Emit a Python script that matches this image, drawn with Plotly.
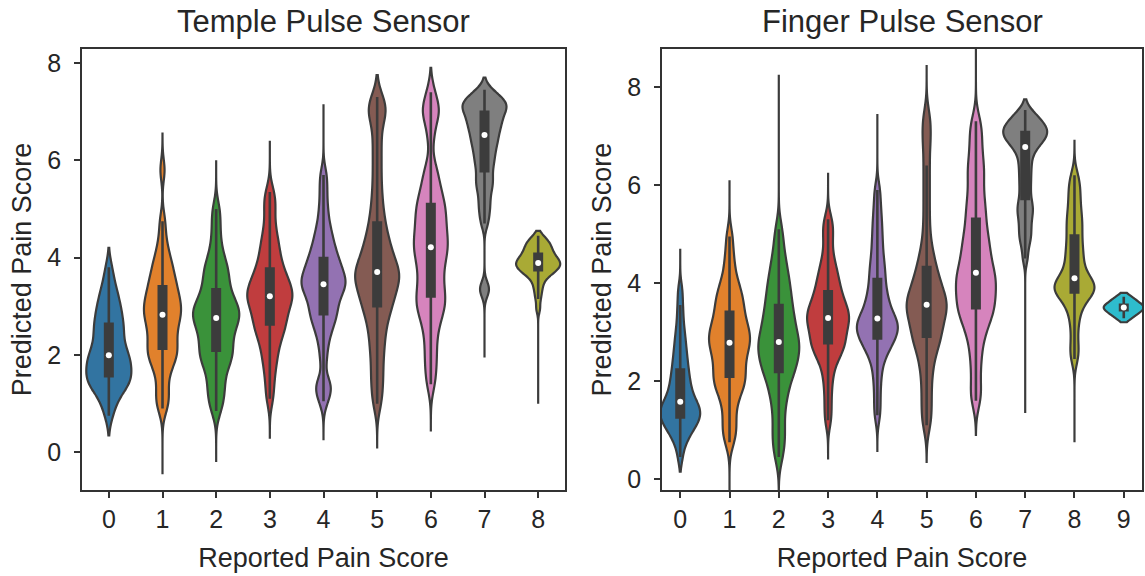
import numpy as np
import plotly.graph_objects as go

# ---------------------------------------------------------------
# Predicted pain score samples, grouped by reported pain score
# ---------------------------------------------------------------
# Temple pulse sensor
temple_0 = [0.75, 0.95, 1.1, 1.2, 1.28, 1.35, 1.4, 1.44, 1.47, 1.5,
            1.55, 1.6, 1.65, 1.7, 1.75, 1.8, 1.85, 1.9, 1.94, 1.97,
            2.02, 2.08, 2.15, 2.22, 2.3, 2.38, 2.45, 2.52, 2.58, 2.65,
            2.72, 2.8, 2.88, 2.97, 3.05, 3.15, 3.25, 3.38, 3.55, 3.8]
temple_1 = [0.9, 1.05, 1.2, 1.4, 1.6, 1.75, 1.85, 1.93, 2.0, 2.05,
            2.12, 2.2, 2.28, 2.36, 2.44, 2.52, 2.6, 2.67, 2.74, 2.8,
            2.85, 2.9, 2.96, 3.02, 3.08, 3.14, 3.2, 3.27, 3.34, 3.42,
            3.5, 3.58, 3.67, 3.77, 3.88, 4.0, 4.15, 4.4, 4.75, 5.8]
temple_2 = [0.85, 1.05, 1.2, 1.35, 1.5, 1.65, 1.78, 1.87, 1.94, 2.0,
            2.08, 2.16, 2.24, 2.32, 2.4, 2.48, 2.55, 2.62, 2.68, 2.74,
            2.78, 2.83, 2.88, 2.93, 2.98, 3.04, 3.1, 3.17, 3.25, 3.35,
            3.45, 3.55, 3.65, 3.75, 3.85, 3.97, 4.15, 4.4, 4.7, 5.0]
temple_3 = [1.1, 1.4, 1.65, 1.85, 2.0, 2.15, 2.28, 2.38, 2.47, 2.55,
            2.62, 2.69, 2.76, 2.83, 2.9, 2.97, 3.04, 3.1, 3.15, 3.19,
            3.22, 3.27, 3.32, 3.38, 3.44, 3.5, 3.56, 3.62, 3.7, 3.78,
            3.88, 3.98, 4.1, 4.22, 4.35, 4.5, 4.7, 4.95, 5.15, 5.35]
temple_4 = [1.05, 1.25, 1.35, 1.45, 1.9, 2.2, 2.4, 2.55, 2.66, 2.75,
            2.83, 2.91, 2.99, 3.07, 3.15, 3.22, 3.29, 3.35, 3.4, 3.44,
            3.47, 3.52, 3.57, 3.62, 3.68, 3.74, 3.8, 3.86, 3.93, 4.0,
            4.08, 4.17, 4.27, 4.38, 4.5, 4.65, 4.85, 5.1, 5.4, 5.7]
temple_5 = [1.0, 1.3, 1.55, 1.8, 2.05, 2.25, 2.45, 2.62, 2.77, 2.9,
            3.0, 3.09, 3.18, 3.27, 3.35, 3.43, 3.5, 3.57, 3.63, 3.68,
            3.73, 3.8, 3.88, 3.97, 4.06, 4.16, 4.27, 4.39, 4.53, 4.7,
            4.9, 5.15, 5.45, 5.8, 6.15, 6.5, 6.85, 7.0, 7.1, 7.3]
temple_6 = [1.4, 1.7, 1.95, 2.2, 2.45, 2.65, 2.8, 2.92, 3.02, 3.1,
            3.2, 3.3, 3.42, 3.54, 3.66, 3.78, 3.9, 4.0, 4.1, 4.18,
            4.25, 4.34, 4.43, 4.52, 4.62, 4.72, 4.82, 4.92, 5.02, 5.1,
            5.22, 5.35, 5.5, 5.68, 5.9, 6.5, 6.9, 7.0, 7.1, 7.4]
temple_7 = [3.3, 3.4, 4.7, 4.9, 5.05, 5.2, 5.35, 5.47, 5.56, 5.65,
            5.78, 5.88, 5.97, 6.06, 6.14, 6.22, 6.3, 6.37, 6.43, 6.48,
            6.56, 6.62, 6.67, 6.72, 6.77, 6.82, 6.87, 6.92, 6.97, 7.01,
            7.06, 7.09, 7.12, 7.15, 7.18, 7.22, 7.26, 7.31, 7.37, 7.45]
temple_8 = [2.95, 3.15, 3.28, 3.38, 3.47, 3.54, 3.6, 3.64, 3.67, 3.7,
            3.72, 3.74, 3.76, 3.78, 3.8, 3.82, 3.84, 3.86, 3.87, 3.88,
            3.9, 3.92, 3.94, 3.96, 3.98, 4.0, 4.02, 4.05, 4.07, 4.1,
            4.13, 4.16, 4.19, 4.22, 4.25, 4.28, 4.31, 4.35, 4.4, 4.45]

# Finger pulse sensor
finger_0 = [0.45, 0.7, 0.82, 0.9, 0.97, 1.03, 1.08, 1.13, 1.17, 1.2,
            1.24, 1.27, 1.31, 1.34, 1.38, 1.41, 1.45, 1.48, 1.52, 1.55,
            1.6, 1.66, 1.72, 1.78, 1.85, 1.92, 1.99, 2.07, 2.15, 2.24,
            2.33, 2.43, 2.54, 2.65, 2.78, 2.92, 3.08, 3.3, 3.55, 3.85]
finger_1 = [0.75, 0.95, 1.1, 1.3, 1.5, 1.65, 1.78, 1.87, 1.94, 2.0,
            2.08, 2.16, 2.24, 2.32, 2.4, 2.48, 2.56, 2.63, 2.7, 2.76,
            2.8, 2.86, 2.92, 2.98, 3.04, 3.1, 3.17, 3.24, 3.32, 3.42,
            3.5, 3.58, 3.67, 3.76, 3.86, 3.98, 4.12, 4.35, 4.6, 4.95]
finger_2 = [0.45, 0.7, 0.9, 1.1, 1.35, 1.55, 1.72, 1.85, 1.98, 2.1,
            2.18, 2.25, 2.32, 2.39, 2.46, 2.53, 2.6, 2.66, 2.72, 2.77,
            2.82, 2.89, 2.96, 3.04, 3.12, 3.2, 3.28, 3.36, 3.45, 3.55,
            3.65, 3.75, 3.86, 3.97, 4.09, 4.22, 4.38, 4.55, 4.8, 5.1]
finger_3 = [1.2, 1.5, 1.8, 2.05, 2.25, 2.4, 2.5, 2.58, 2.65, 2.7,
            2.76, 2.82, 2.88, 2.94, 3.0, 3.06, 3.12, 3.17, 3.22, 3.27,
            3.3, 3.35, 3.4, 3.45, 3.5, 3.56, 3.62, 3.68, 3.75, 3.84,
            3.92, 4.0, 4.1, 4.2, 4.32, 4.45, 4.65, 4.9, 5.1, 5.3]
finger_4 = [1.3, 1.6, 1.9, 2.15, 2.35, 2.5, 2.6, 2.68, 2.74, 2.8,
            2.86, 2.91, 2.96, 3.0, 3.05, 3.09, 3.13, 3.17, 3.21, 3.25,
            3.3, 3.36, 3.43, 3.5, 3.58, 3.66, 3.75, 3.85, 3.96, 4.08,
            4.2, 4.32, 4.45, 4.6, 4.78, 4.95, 5.15, 5.35, 5.6, 5.9]
finger_5 = [1.1, 1.35, 1.6, 1.85, 2.1, 2.3, 2.48, 2.62, 2.73, 2.82,
            2.9, 2.98, 3.06, 3.14, 3.22, 3.3, 3.37, 3.43, 3.49, 3.53,
            3.58, 3.64, 3.7, 3.77, 3.84, 3.92, 4.0, 4.1, 4.2, 4.32,
            4.45, 4.62, 4.85, 5.2, 5.6, 6.0, 6.4, 6.8, 7.1, 7.4]
finger_6 = [1.6, 1.85, 2.2, 2.5, 2.75, 2.95, 3.1, 3.22, 3.32, 3.4,
            3.48, 3.56, 3.64, 3.72, 3.8, 3.88, 3.96, 4.04, 4.11, 4.17,
            4.25, 4.35, 4.45, 4.55, 4.66, 4.77, 4.88, 5.0, 5.14, 5.3,
            5.45, 5.6, 5.78, 5.98, 6.2, 6.35, 6.55, 6.8, 7.05, 7.3]
finger_7 = [4.5, 4.75, 4.9, 5.0, 5.12, 5.24, 5.35, 5.45, 5.53, 5.6,
            5.72, 5.85, 5.98, 6.1, 6.22, 6.34, 6.45, 6.56, 6.66, 6.75,
            6.8, 6.84, 6.88, 6.92, 6.96, 6.99, 7.02, 7.05, 7.08, 7.1,
            7.13, 7.16, 7.19, 7.22, 7.26, 7.3, 7.34, 7.39, 7.45, 7.53]
finger_8 = [2.45, 2.6, 2.8, 3.05, 3.25, 3.4, 3.52, 3.62, 3.7, 3.76,
            3.79, 3.82, 3.85, 3.88, 3.91, 3.94, 3.97, 4.0, 4.03, 4.06,
            4.14, 4.22, 4.3, 4.39, 4.48, 4.57, 4.66, 4.75, 4.86, 4.97,
            5.08, 5.18, 5.28, 5.38, 5.5, 5.63, 5.78, 5.9, 6.05, 6.2]
finger_9 = [3.28, 3.34, 3.4, 3.44, 3.48, 3.5, 3.52, 3.56, 3.6, 3.66, 3.72]

temple_samples = [temple_0, temple_1, temple_2, temple_3, temple_4,
                  temple_5, temple_6, temple_7, temple_8]
finger_samples = [finger_0, finger_1, finger_2, finger_3, finger_4,
                  finger_5, finger_6, finger_7, finger_8, finger_9]

# Extent of each density curve (lowest, highest predicted score)
temple_spans = [(0.35, 4.2), (-0.45, 6.55), (-0.2, 6.0), (0.3, 6.4), (0.25, 7.15),
                (0.1, 7.75), (0.45, 7.9), (1.95, 7.7), (1.0, 4.55)]
finger_spans = [(0.15, 4.7), (-0.6, 6.1), (-0.6, 8.25), (0.4, 6.25), (0.55, 7.45),
                (0.35, 8.45), (0.9, 8.9), (1.35, 7.75), (0.75, 6.9), (3.2, 3.8)]

# Kernel bandwidths and violin widths (data units)
temple_bw = [0.22, 0.22, 0.22, 0.22, 0.2, 0.25, 0.25, 0.15, 0.1]
finger_bw = [0.18, 0.22, 0.25, 0.2, 0.2, 0.25, 0.25, 0.15, 0.2, 0.08]
temple_width = [0.84, 0.69, 0.86, 0.84, 0.82, 0.82, 0.63, 0.82, 0.82]
finger_width = [0.81, 0.83, 0.83, 0.85, 0.83, 0.81, 0.81, 0.89, 0.81, 0.81]

palette = ["#3274A1", "#E1812C", "#3A923A", "#C03D3E", "#9372B2",
           "#845B53", "#D684BD", "#7F7F7F", "#A9AA35", "#2EBCCD"]
edge = "#3c3c3c"

fig = go.Figure()


def add_panel(samples, spans, bws, widths, xref, yref):
    for k, vals in enumerate(samples):
        vals = np.asarray(vals, dtype=float)
        fig.add_trace(go.Violin(
            x=[k] * len(vals), y=vals, xaxis=xref, yaxis=yref,
            fillcolor=palette[k], opacity=1,
            line=dict(color=edge, width=2.2),
            width=widths[k], bandwidth=bws[k],
            spanmode="manual", span=list(spans[k]),
            scalemode="width", points=False,
            box_visible=False, meanline_visible=False,
            hoverinfo="skip", showlegend=False,
        ))
    # inner box: whiskers, interquartile bar, median dot
    for k, vals in enumerate(samples):
        vals = np.asarray(vals, dtype=float)
        q1, med, q3 = np.percentile(vals, [25, 50, 75])
        iqr = q3 - q1
        lo = vals[vals >= q1 - 1.5 * iqr].min()
        hi = vals[vals <= q3 + 1.5 * iqr].max()
        fig.add_trace(go.Scatter(x=[k, k], y=[lo, hi], mode="lines",
                                 line=dict(color=edge, width=2.6),
                                 xaxis=xref, yaxis=yref, hoverinfo="skip",
                                 showlegend=False))
        fig.add_trace(go.Scatter(x=[k, k], y=[q1, q3], mode="lines",
                                 line=dict(color=edge, width=10),
                                 xaxis=xref, yaxis=yref, hoverinfo="skip",
                                 showlegend=False))
        fig.add_trace(go.Scatter(x=[k], y=[med], mode="markers",
                                 marker=dict(color="white", size=6),
                                 xaxis=xref, yaxis=yref, hoverinfo="skip",
                                 showlegend=False))


add_panel(temple_samples, temple_spans, temple_bw, temple_width, "x", "y")
add_panel(finger_samples, finger_spans, finger_bw, finger_width, "x2", "y2")

W, H = 1145, 576
axis_common = dict(
    showline=True, mirror=True, linecolor="#333333", linewidth=1.8,
    ticks="outside", ticklen=6, tickwidth=1.6, tickcolor="#333333",
    showgrid=False, zeroline=False,
    tickfont=dict(size=25, color="#262626"),
)
ydom = [1 - 492 / H, 1 - 49 / H]
xtitle = dict(text="Reported Pain Score", font=dict(size=27), standoff=16)
ytitle = dict(text="Predicted Pain Score", font=dict(size=27), standoff=8)

fig.update_layout(
    width=W, height=H,
    margin=dict(l=0, r=0, t=0, b=0),
    plot_bgcolor="white", paper_bgcolor="white",
    showlegend=False, violinmode="overlay",
    font=dict(family="Liberation Sans, Arial, sans-serif", color="#262626"),
    xaxis=dict(axis_common, domain=[82 / W, 565 / W], range=[-0.5, 8.5],
               tickvals=list(range(9)), anchor="y", title=xtitle),
    yaxis=dict(axis_common, domain=ydom, range=[-0.78, 8.29],
               tickvals=[0, 2, 4, 6, 8], anchor="x", title=ytitle,
               ticklabelstandoff=8),
    xaxis2=dict(axis_common, domain=[662 / W, 1142 / W], range=[-0.37, 9.37],
                tickvals=list(range(10)), anchor="y2", title=xtitle),
    yaxis2=dict(axis_common, domain=ydom, range=[-0.23, 8.78],
                tickvals=[0, 2, 4, 6, 8], anchor="x2", title=ytitle,
                ticklabelstandoff=8),
    annotations=[
        dict(text="Temple Pulse Sensor", x=(82 + 565) / 2 / W, y=1 - 22 / H,
             xref="paper", yref="paper", showarrow=False,
             xanchor="center", yanchor="middle", font=dict(size=31)),
        dict(text="Finger Pulse Sensor", x=(662 + 1142) / 2 / W, y=1 - 22 / H,
             xref="paper", yref="paper", showarrow=False,
             xanchor="center", yanchor="middle", font=dict(size=31)),
    ],
)

fig.write_html("out.html")
